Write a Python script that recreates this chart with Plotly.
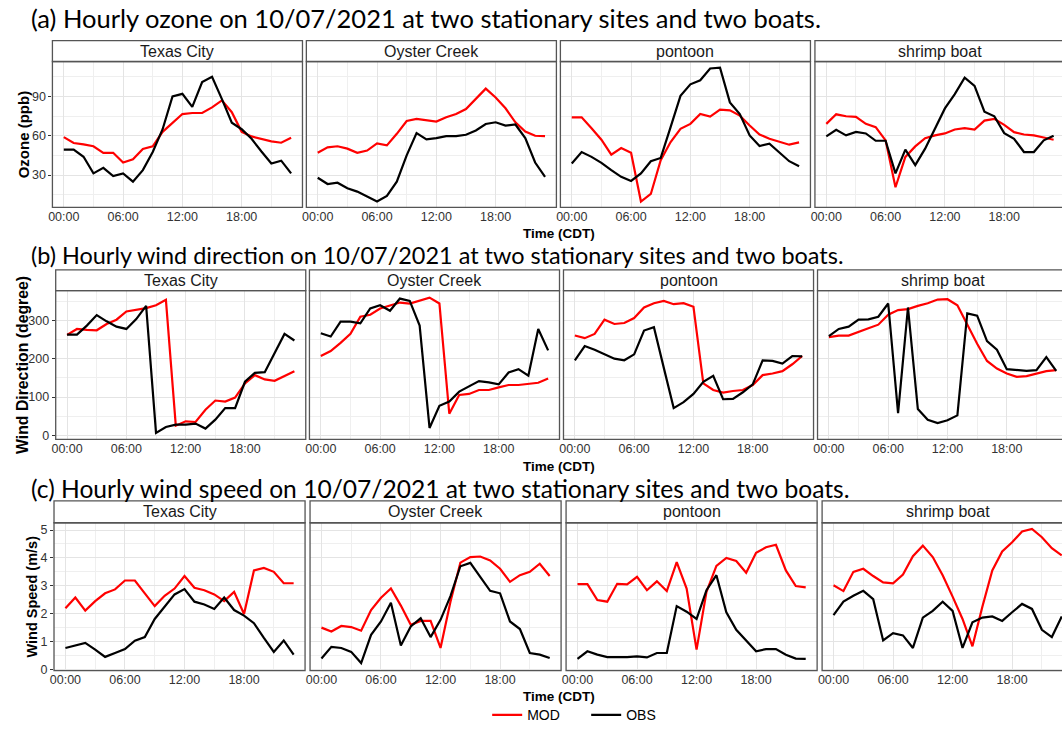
import plotly.graph_objects as go

FIG_W, FIG_H = 1062, 745

# ---------------------------------------------------------------- data
hours = list(range(24))
sites = ["Texas City", "Oyster Creek", "pontoon", "shrimp boat"]
hour_ticks = [0, 6, 12, 18]
hour_labels = ["00:00", "06:00", "12:00", "18:00"]
hour_minor = [3, 9, 15, 21]

# Ozone (ppb)
o3_mod_texas_city = [59, 54.5, 53.5, 52, 47, 47, 39.6, 42, 50, 52, 63, 70, 76.6, 77.4, 77.4, 81.7, 87, 78, 63, 59.5, 57.7, 55.7, 54.7, 58.5]
o3_obs_texas_city = [49.4, 49.4, 44, 31.3, 35.5, 29.2, 31.3, 25, 33.8, 47.6, 65, 90, 92, 82, 101, 105, 88, 70, 65, 57.7, 48, 38.8, 41, 31.3]
o3_mod_oyster_creek = [47.1, 51.2, 52, 50.2, 47, 48.7, 54.2, 52.7, 61.5, 71.3, 72.9, 71.6, 70.8, 74.1, 76.6, 80.4, 88, 96, 89.2, 81, 70.3, 63.3, 60, 59.8]
o3_obs_oyster_creek = [28, 23.2, 24.2, 20, 17.4, 13.6, 9.8, 14.1, 25, 45.1, 62, 57.2, 58.2, 59.8, 59.8, 60.8, 64, 69, 70.3, 67.8, 68.6, 58.2, 39.6, 28.7]
o3_mod_pontoon = [74.1, 74.1, 65.8, 57, 45.6, 50.7, 47.1, 9.8, 15.6, 41.3, 55.2, 65.3, 69.1, 76.6, 74.6, 79.9, 79.4, 75.4, 67.8, 61, 57.7, 55.7, 53.2, 55]
o3_obs_pontoon = [38.8, 47.6, 43.9, 39.3, 33.8, 28.7, 25.5, 31.3, 40.6, 43.1, 66.6, 90.5, 99.3, 102.4, 111.4, 112, 85.5, 76.6, 60.3, 52.2, 54, 47, 40.6, 36.8]
o3_mod_shrimp_boat = [69.1, 76.4, 74.9, 74.4, 69.1, 66.6, 56.5, 20.7, 43.9, 51.9, 58.2, 60.3, 61.8, 64.8, 65.8, 64.8, 71.6, 72.9, 68.3, 62.8, 61, 60.3, 58.7, 57]
o3_obs_shrimp_boat = [59.5, 64.5, 60.3, 63, 61.8, 56.2, 56.2, 31.3, 49.4, 37.6, 50.2, 66.1, 80.9, 91.8, 104.4, 98.1, 78.4, 74.9, 62, 57.7, 47.6, 47.6, 56.5, 60]

# Wind direction (degree)
wd_mod_texas_city = [262.7, 278.3, 275.7, 274.8, 291.3, 302.5, 324, 327.6, 332.8, 340.5, 354.4, 25, 36.3, 34.6, 66.6, 90.8, 88.2, 98.5, 135.7, 157.3, 146, 142.6, 154.7, 167.7]
wd_obs_texas_city = [263.6, 263.6, 287, 314.6, 298.2, 284.4, 278.3, 304.2, 338.8, 6, 21.6, 27.7, 27.7, 30.3, 17.3, 40.6, 70.9, 70.9, 140, 163.4, 165, 213.5, 265.3, 248]
wd_mod_oyster_creek = [207.4, 220.4, 242, 265.3, 310.3, 315.5, 331.9, 338.8, 347.4, 344.9, 351.8, 360.4, 344.9, 56.2, 105.4, 108, 118.4, 118.4, 125.3, 131.4, 131.4, 134, 137.4, 148.7]
wd_obs_oyster_creek = [267, 258.4, 297.3, 297.3, 293, 331.9, 340.5, 325.8, 357.8, 351.8, 287, 19, 76.9, 88.2, 114.1, 128.8, 141.7, 138.3, 133.1, 164.2, 172.9, 155.6, 278.3, 222.1]
wd_mod_pontoon = [261, 254.1, 265.3, 302.5, 291.3, 293.9, 306.8, 334.5, 345.7, 351.8, 343.1, 345.7, 336.2, 135.7, 118.4, 111.5, 115.8, 118.4, 131.4, 157.3, 161.6, 167.7, 185.8, 207.4]
wd_obs_pontoon = [196.2, 233.4, 223.9, 211.8, 200.5, 196.2, 211.8, 274, 282.6, 176.3, 70.9, 86.4, 108, 140, 155.6, 94.2, 95.1, 112.4, 133.1, 196.2, 194.5, 187.6, 207.4, 206.6]
wd_mod_shrimp_boat = [256.7, 261, 261, 269.7, 280, 289.5, 315.5, 327.6, 330.2, 338.8, 345.7, 355.2, 356.1, 340.5, 289.5, 239.4, 194.5, 174.6, 161.6, 153, 154.7, 161.6, 167.7, 170.3]
wd_obs_shrimp_boat = [259.3, 278.3, 284.4, 302.5, 303.4, 310.3, 344.9, 57.9, 334.5, 68.3, 40.6, 32, 38.9, 51.9, 319, 313, 246.3, 223.9, 172.9, 170.3, 168.5, 170.3, 204.8, 168.5]

# Wind speed (m/s)
ws_mod_texas_city = [2.19, 2.58, 2.11, 2.45, 2.73, 2.87, 3.19, 3.19, 2.73, 2.27, 2.64, 2.9, 3.35, 2.93, 2.84, 2.69, 2.45, 2.78, 1.99, 3.55, 3.64, 3.5, 3.09, 3.09]
ws_obs_texas_city = [0.77, 0.85, 0.95, 0.71, 0.45, 0.59, 0.73, 1.03, 1.16, 1.81, 2.25, 2.69, 2.88, 2.43, 2.33, 2.17, 2.58, 2.13, 1.93, 1.66, 1.13, 0.63, 1.04, 0.53]
ws_mod_oyster_creek = [1.5, 1.36, 1.56, 1.52, 1.39, 2.13, 2.57, 2.9, 2.29, 1.6, 1.74, 1.74, 0.77, 2.43, 3.83, 4.03, 4.05, 3.91, 3.61, 3.14, 3.38, 3.5, 3.79, 3.35]
ws_obs_oyster_creek = [0.39, 0.81, 0.77, 0.63, 0.23, 1.24, 1.72, 2.39, 0.86, 1.54, 1.84, 1.16, 1.78, 2.63, 3.7, 3.82, 3.32, 2.82, 2.73, 1.72, 1.45, 0.59, 0.53, 0.41]
ws_mod_pontoon = [3.06, 3.06, 2.49, 2.43, 3.07, 3.05, 3.32, 2.84, 3.16, 2.81, 3.85, 2.9, 0.71, 2.78, 3.71, 4.0, 3.89, 3.47, 4.18, 4.38, 4.47, 3.55, 2.99, 2.94]
ws_obs_pontoon = [0.38, 0.65, 0.53, 0.44, 0.44, 0.44, 0.47, 0.43, 0.59, 0.59, 2.27, 2.07, 1.81, 2.84, 3.38, 2.05, 1.42, 1.04, 0.65, 0.73, 0.73, 0.53, 0.39, 0.38]
ws_mod_shrimp_boat = [3.02, 2.81, 3.5, 3.61, 3.35, 3.12, 3.09, 3.4, 4.06, 4.44, 4.03, 3.38, 2.61, 1.81, 0.83, 2.25, 3.55, 4.23, 4.56, 4.95, 5.04, 4.74, 4.35, 4.09]
ws_obs_shrimp_boat = [1.95, 2.43, 2.64, 2.82, 2.52, 1.04, 1.3, 1.22, 0.77, 1.86, 2.1, 2.43, 2.1, 0.77, 1.69, 1.86, 1.9, 1.74, 2.05, 2.35, 2.17, 1.42, 1.16, 1.9]

series_names = ["MOD", "OBS"]
series_colors = ["#ff0000", "#000000"]

variables = [
    {
        "title": "(a) Hourly ozone on 10/07/2021 at two stationary sites and two boats.",
        "ytitle": "Ozone (ppb)",
        "yticks": [30, 60, 90],
        "yminor": [15, 45, 75, 105],
        "mod": [o3_mod_texas_city, o3_mod_oyster_creek, o3_mod_pontoon, o3_mod_shrimp_boat],
        "obs": [o3_obs_texas_city, o3_obs_oyster_creek, o3_obs_pontoon, o3_obs_shrimp_boat],
    },
    {
        "title": "(b) Hourly wind direction on 10/07/2021 at two stationary sites and two boats.",
        "ytitle": "Wind Direction (degree)",
        "yticks": [0, 100, 200, 300],
        "yminor": [50, 150, 250, 350],
        "mod": [wd_mod_texas_city, wd_mod_oyster_creek, wd_mod_pontoon, wd_mod_shrimp_boat],
        "obs": [wd_obs_texas_city, wd_obs_oyster_creek, wd_obs_pontoon, wd_obs_shrimp_boat],
    },
    {
        "title": "(c) Hourly wind speed on 10/07/2021 at two stationary sites and two boats.",
        "ytitle": "Wind Speed (m/s)",
        "yticks": [0, 1, 2, 3, 4, 5],
        "yminor": [0.5, 1.5, 2.5, 3.5, 4.5],
        "mod": [ws_mod_texas_city, ws_mod_oyster_creek, ws_mod_pontoon, ws_mod_shrimp_boat],
        "obs": [ws_obs_texas_city, ws_obs_oyster_creek, ws_obs_pontoon, ws_obs_shrimp_boat],
    },
]

# ---------------------------------------------------------------- layout (pixels)
rows = [
    dict(title_y=18, title_size=25.5, strip_top=41, top=62, bottom=209,
         lefts=[48.6, 303.5, 558.5, 814.0], width=251, yrange=[5.4, 116.7],
         ytitle_x=19, ytitle_size=15, xtitle_y=235),
    dict(title_y=257, title_size=23.45, strip_top=272, top=293, bottom=443,
         lefts=[51.9, 306.6, 561.6, 816.6], width=251, yrange=[-11.1, 378.6],
         ytitle_x=18, ytitle_size=15.8, xtitle_y=470),
    dict(title_y=492, title_size=24.6, strip_top=505, top=527, bottom=676,
         lefts=[50.2, 307.2, 564.2, 821.2], width=252, yrange=[-0.04, 5.26],
         ytitle_x=28, ytitle_size=14.5, xtitle_y=702),
]
X_LO, X_SPAN = -1.15, 25.3

BORDER = "#555555"
SANS = "Liberation Sans, Arial, sans-serif"
TICK_FONT = dict(family=SANS, size=12.5, color="#333333")


def px_x(x):
    return x / FIG_W


def px_y(y):
    return 1 - y / FIG_H


fig = go.Figure()
layout = {}
shapes = []
annotations = []

n = 0
for r, (row, var) in enumerate(zip(rows, variables)):
    for c, site in enumerate(sites):
        n += 1
        left = row["lefts"][c]
        right = left + row["width"]
        vis_right = min(right, FIG_W)
        x_hi = X_LO + (vis_right - left) / row["width"] * X_SPAN
        xa, ya = f"xaxis{n}", f"yaxis{n}"
        xr, yr = f"x{n}", f"y{n}"
        layout[xa] = dict(
            domain=[px_x(left), px_x(vis_right)], range=[X_LO, x_hi], anchor=yr,
            tickmode="array", tickvals=hour_ticks, ticktext=hour_labels,
            showgrid=True, gridcolor="#e4e4e4", gridwidth=1,
            minor=dict(tickmode="array", tickvals=hour_minor, showgrid=True,
                       gridcolor="#efefef", gridwidth=0.7, ticks=""),
            ticks="", tickfont=TICK_FONT, zeroline=False, showline=False, fixedrange=True,
        )
        layout[ya] = dict(
            domain=[px_y(row["bottom"]), px_y(row["top"])], range=row["yrange"], anchor=xr,
            tickmode="array", tickvals=var["yticks"],
            showgrid=True, gridcolor="#e4e4e4", gridwidth=1,
            minor=dict(tickmode="array", tickvals=var["yminor"], showgrid=True,
                       gridcolor="#efefef", gridwidth=0.7, ticks=""),
            showticklabels=(c == 0), ticks="outside" if c == 0 else "",
            ticklen=3, tickcolor="#333333", tickwidth=1,
            tickfont=TICK_FONT, zeroline=False, showline=False, fixedrange=True,
        )
        for name, color, values in zip(series_names, series_colors, [var["mod"][c], var["obs"][c]]):
            fig.add_trace(go.Scatter(
                x=hours, y=values, mode="lines", name=name,
                line=dict(color=color, width=2.2),
                xaxis=xr, yaxis=yr, legendgroup=name,
                showlegend=(n == 1), cliponaxis=True,
            ))
        # panel border and facet strip
        shapes.append(dict(type="rect", xref="paper", yref="paper",
                           x0=px_x(left), x1=px_x(right), y0=px_y(row["bottom"]), y1=px_y(row["top"]),
                           line=dict(color=BORDER, width=1.3), fillcolor="rgba(0,0,0,0)", layer="above"))
        shapes.append(dict(type="rect", xref="paper", yref="paper",
                           x0=px_x(left), x1=px_x(right), y0=px_y(row["top"]), y1=px_y(row["strip_top"]),
                           line=dict(color=BORDER, width=1.3), fillcolor="white", layer="above"))
        annotations.append(dict(text=site, xref="paper", yref="paper",
                                x=px_x(left + row["width"] / 2), y=px_y((row["strip_top"] + row["top"]) / 2),
                                xanchor="center", yanchor="middle", showarrow=False,
                                font=dict(family=SANS, size=16, color="#1a1a1a")))
    # row title, y title, x title
    annotations.append(dict(text=var["title"], xref="paper", yref="paper",
                            x=px_x(26), y=px_y(row["title_y"]), xanchor="left", yanchor="middle",
                            showarrow=False, borderpad=0,
                            font=dict(family="Lato, sans-serif", size=row["title_size"], color="#000000")))
    annotations.append(dict(text=f"<b>{var['ytitle']}</b>", xref="paper", yref="paper",
                            x=px_x(row["ytitle_x"]), y=px_y((row["top"] + row["bottom"]) / 2),
                            xanchor="center", yanchor="middle", textangle=-90,
                            showarrow=False, font=dict(family=SANS, size=row["ytitle_size"], color="#000000")))
    annotations.append(dict(text="<b>Time (CDT)</b>", xref="paper", yref="paper",
                            x=px_x(557), y=px_y(row["xtitle_y"]), xanchor="center", yanchor="middle",
                            showarrow=False, borderpad=0,
                            font=dict(family=SANS, size=13.5, color="#000000")))

fig.update_layout(
    width=FIG_W, height=FIG_H,
    margin=dict(l=0, r=0, t=0, b=0),
    paper_bgcolor="white", plot_bgcolor="white",
    shapes=shapes, annotations=annotations,
    showlegend=True,
    legend=dict(orientation="h", x=px_x(485), xanchor="left", y=px_y(721), yanchor="middle",
                font=dict(family=SANS, size=14, color="#000000"),
                bgcolor="rgba(0,0,0,0)", itemwidth=30, traceorder="normal",
                entrywidth=54, entrywidthmode="pixels"),
    **layout,
)

fig.write_html("out.html")
